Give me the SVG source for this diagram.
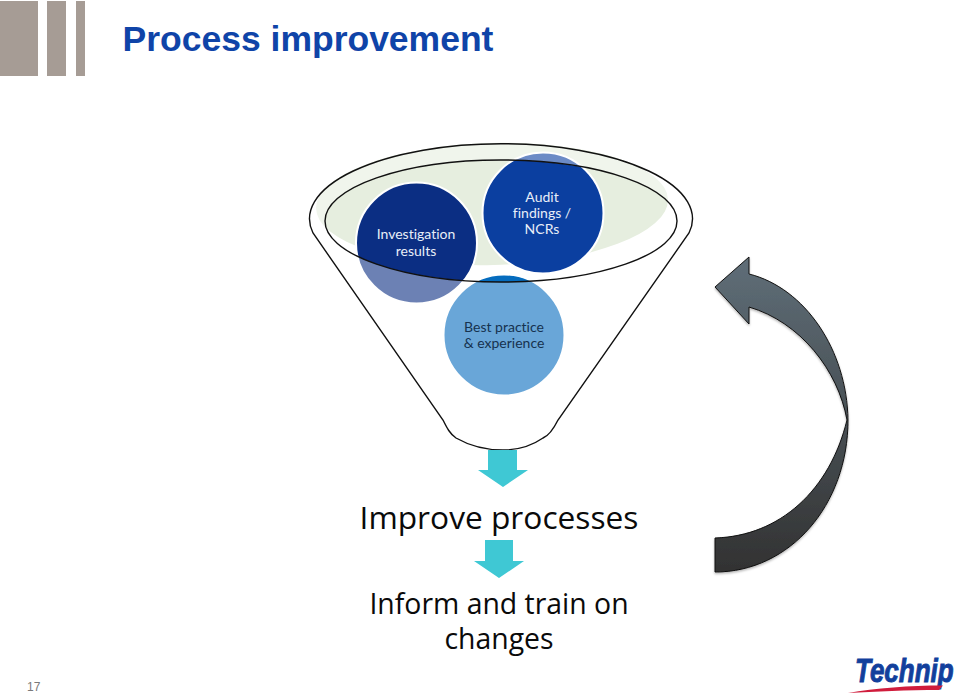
<svg xmlns="http://www.w3.org/2000/svg" width="960" height="698" viewBox="0 0 960 698">
  <style>
    .bar { fill: #a69c95; }
    .disc { stroke: #ffffff; stroke-width: 2; }
    .disc-label { font-family: Lato, "Open Sans", "Liberation Sans", sans-serif; font-size: 14px; fill: #e8eef8; text-anchor: middle; font-variant-ligatures: none; }
    .dark-label { fill: #16324f; }
    .big { font-family: "Open Sans", "Liberation Sans", sans-serif; fill: #0a0a0a; text-anchor: middle; }
    .drop { fill: #3fc8d4; }
  </style>
  <defs>
    <linearGradient id="loopFill" x1="0" y1="0" x2="0" y2="1">
      <stop offset="0" stop-color="#5f6e78"/>
      <stop offset="1" stop-color="#323232"/>
    </linearGradient>
    <filter id="loopShadow" x="-10%" y="-5%" width="120%" height="110%">
      <feDropShadow dx="0" dy="1.5" stdDeviation="1.2" flood-color="#000000" flood-opacity="0.3"/>
    </filter>
  </defs>
  <rect width="960" height="698" fill="#ffffff"/>

  <g id="header">
    <rect class="bar" x="0" y="1" width="38" height="75"/>
    <rect class="bar" x="47" y="1" width="19" height="75"/>
    <rect class="bar" x="76" y="1" width="9" height="75"/>
    <text x="122.500" y="51" font-family="Liberation Sans, sans-serif" font-weight="700" font-size="35.500px" fill="#0f44a8">Process improvement</text>
  </g>

  <g id="backdrop">
    <ellipse cx="492" cy="204" rx="176" ry="61" transform="rotate(-1.5 492 204)" fill="#e6eedf"/>
  </g>

  <g id="investigation">
    <circle class="disc" cx="416.500" cy="243" r="60.500" fill="#0b2e83"/>
    <text class="disc-label" x="416" y="239">Investigation</text>
    <text class="disc-label" x="416" y="255.500">results</text>
  </g>
  <g id="audit">
    <circle class="disc" cx="543" cy="213" r="60.500" fill="#0b3fa0"/>
    <text class="disc-label" x="542" y="201.500">Audit</text>
    <text class="disc-label" x="542" y="218">findings /</text>
    <text class="disc-label" x="542" y="234">NCRs</text>
  </g>
  <g id="practice">
    <circle class="disc" cx="504" cy="335" r="60.500" fill="#056cbe"/>
  </g>

  <g id="funnel">
    <path d="M313,233 A191.500,75 0 1 1 689,233 L558,420 C552,432 548,436 543,438 C530,447 515,450 503,450 C488,450 470,446 456,438 C450,434 447,428 443,420 Z M325,221 A176,61 0 0 0 677,221 A176,61 0 0 0 325,221 Z" fill="#ffffff" fill-opacity="0.4" fill-rule="evenodd" stroke="#111111" stroke-width="1.400"/>
  </g>

  <g id="practice-label">
    <text class="disc-label dark-label" x="504" y="331.500">Best practice</text>
    <text class="disc-label dark-label" x="504" y="348">&amp; experience</text>
  </g>

  <g id="connectors">
    <path class="drop" d="M488,450 H517 V470 H528 L503,487 L478,470 H488 Z"/>
    <path class="drop" d="M485,540 H513 V561 H524 L499,578 L474,561 H485 Z"/>
    <path d="M715,287 L749,257 L749,274 C805,288 847,350 848,420 C848,505 790,572 715,572 L715,538 C780,536 830,490 847,420 C838,370 800,322 749,307 L749,324 Z" fill="url(#loopFill)" stroke="#111111" stroke-width="1" filter="url(#loopShadow)"/>
  </g>

  <g id="improve">
    <text class="big" x="499" y="529" font-size="31.700px">Improve processes</text>
  </g>
  <g id="inform">
    <text class="big" x="499" y="614" font-size="28.400px">Inform and train on</text>
    <text class="big" x="499" y="649" font-size="28.400px">changes</text>
  </g>

  <g id="footer">
    <text x="27" y="691" font-family="Liberation Sans, sans-serif" font-size="12px" fill="#7a7a7a">17</text>
    <text transform="translate(855 682) scale(1.040 1.300)" font-family="Liberation Sans, sans-serif" font-style="italic" font-weight="700" font-size="25px" fill="#123f9c" stroke="#123f9c" stroke-width="0.7">Technip</text>
    <path d="M848,693 C875,688 910,685.500 943,685.500 L939,690 C908,690 875,691.500 848,693 Z" fill="#d01c3c"/>
  </g>
</svg>
